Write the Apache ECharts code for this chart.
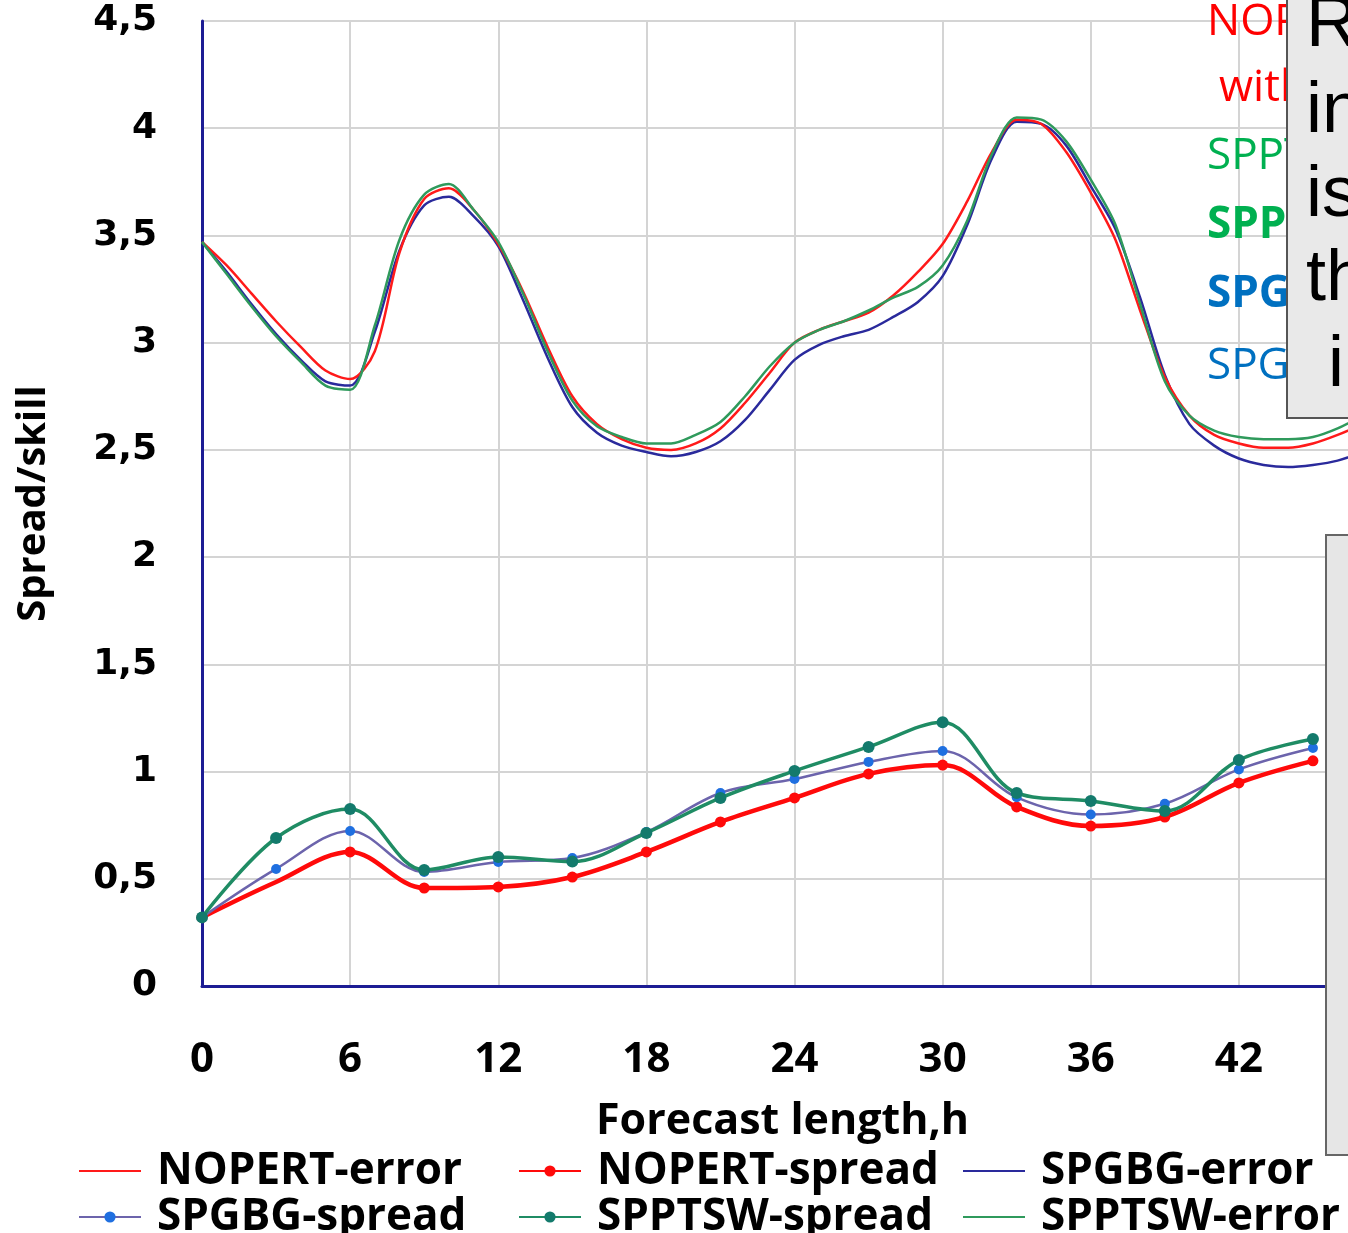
<!DOCTYPE html>
<html>
<head>
<meta charset="utf-8">
<script src="https://cdn.jsdelivr.net/npm/echarts@6/dist/echarts.min.js"></script>
<style>
html,body{margin:0;padding:0;background:#fff;}
#c{width:1348px;height:1233px;}
</style>
</head>
<body>
<div id="c"></div>
<script>
// ---------- data ----------
const errorHours = [0,1,2,3,4,5,6,7,8,9,10,11,12,13,14,15,16,17,18,19,20,21,22,23,24,25,26,27,28,29,30,31,32,33,34,35,36,37,38,39,40,41,42,43,44,45,46,47];
const nopertError = [3.47,3.36,3.23,3.10,2.98,2.87,2.83,2.96,3.42,3.67,3.72,3.62,3.46,3.24,2.98,2.75,2.62,2.55,2.51,2.50,2.53,2.60,2.72,2.86,3.00,3.06,3.10,3.14,3.22,3.33,3.46,3.66,3.89,4.04,4.02,3.89,3.70,3.48,3.15,2.84,2.66,2.57,2.53,2.51,2.51,2.53,2.57,2.62];
const spgbgError  = [3.47,3.33,3.18,3.04,2.92,2.82,2.80,3.05,3.43,3.64,3.68,3.59,3.45,3.20,2.93,2.70,2.58,2.52,2.49,2.47,2.49,2.54,2.64,2.78,2.92,2.99,3.03,3.06,3.12,3.19,3.31,3.55,3.86,4.03,4.02,3.92,3.73,3.53,3.21,2.85,2.62,2.52,2.46,2.43,2.42,2.43,2.45,2.49];
const spptswError = [3.47,3.32,3.17,3.03,2.91,2.80,2.78,3.08,3.48,3.69,3.74,3.62,3.47,3.23,2.96,2.73,2.61,2.56,2.53,2.53,2.57,2.63,2.75,2.89,3.00,3.06,3.10,3.15,3.21,3.26,3.36,3.57,3.88,4.05,4.04,3.94,3.76,3.55,3.18,2.82,2.66,2.59,2.56,2.55,2.55,2.56,2.60,2.66];

const spreadHours = [0,3,6,9,12,15,18,21,24,27,30,33,36,39,42,45];
const nopertSpread = [0.32,0.485,0.625,0.457,0.462,0.508,0.625,0.765,0.877,0.989,1.03,0.835,0.746,0.788,0.947,1.05];
const spgbgSpread  = [0.32,0.546,0.723,0.532,0.578,0.597,0.718,0.90,0.965,1.045,1.096,0.88,0.80,0.85,1.01,1.11];
const spptswSpread = [0.32,0.69,0.825,0.541,0.602,0.58,0.714,0.877,1.003,1.115,1.23,0.90,0.863,0.816,1.054,1.152];

const yTicks = ['0','0,5','1','1,5','2','2,5','3','3,5','4','4,5'];
const seriesNames = ['NOPERT-error','NOPERT-spread','SPGBG-error','SPGBG-spread','SPPTSW-spread','SPPTSW-error'];
const errorNames = [seriesNames[0], seriesNames[2], seriesNames[5]];

// ---------- build ----------
const pair = (xs, ys) => xs.map((x, i) => [x, ys[i]]);
const chart = echarts.init(document.getElementById('c'), null, {renderer: 'canvas'});
const legendText = {fontFamily: 'Open Sans', fontWeight: 'bold', fontSize: 44, lineHeight: 40, color: '#000', padding: [0, 0, 0, 11]};
const legendItem = (n) => errorNames.includes(n) ? {name: n, itemStyle: {opacity: 0}} : {name: n};
const mkLegend = (left, names) => ({
  orient: 'vertical', left: left, top: 1149, height: 200, itemGap: 2, itemWidth: 62, itemHeight: 14,
  data: names.map(legendItem), textStyle: legendText, padding: 0, selectedMode: false
});

chart.setOption({
  animation: false,
  backgroundColor: '#fff',
  grid: {left: 202, top: 21, width: 1185, height: 965, containLabel: false, outerBoundsMode: 'none'},
  xAxis: {
    type: 'value', min: 0, max: 48, interval: 6,
    axisLine: {show: true, onZero: true, lineStyle: {color: '#1c1c94', width: 3}},
    axisTick: {show: false},
    splitLine: {show: true, lineStyle: {color: '#d4d4d4', width: 2}},
    axisLabel: {margin: 53, fontFamily: 'Open Sans', fontWeight: 'bold', fontSize: 42, color: '#000'},
    name: 'Forecast length,h', nameLocation: 'middle', nameGap: 114,
    nameTextStyle: {fontFamily: 'Open Sans', fontWeight: 'bold', fontSize: 43, color: '#000', padding: [0, 24, 0, 0]}
  },
  yAxis: {
    type: 'value', min: 0, max: 4.5, interval: 0.5,
    axisLine: {show: true, lineStyle: {color: '#1c1c94', width: 3}},
    axisTick: {show: false},
    splitLine: {show: true, lineStyle: {color: '#d4d4d4', width: 2}},
    axisLabel: {margin: 45, fontFamily: 'DejaVu Sans', fontWeight: 'bold', fontSize: 36, color: '#000',
      formatter: (v) => yTicks[Math.round(v * 2)]},
    name: 'Spread/skill', nameLocation: 'middle', nameGap: 148, nameRotate: 90,
    nameTextStyle: {fontFamily: 'Open Sans', fontWeight: 'bold', fontSize: 40, color: '#000'}
  },
  legend: [
    mkLegend(78, [seriesNames[0], seriesNames[3]]),
    mkLegend(518, [seriesNames[1], seriesNames[4]]),
    mkLegend(962, [seriesNames[2], seriesNames[5]])
  ],
  series: [
    {name: seriesNames[0], type: 'line', data: pair(errorHours, nopertError), smooth: 0.3, symbol: 'none',
      lineStyle: {color: '#ff1a1a', width: 2.5}, itemStyle: {color: '#ff1a1a'}, z: 3},
    {name: seriesNames[2], type: 'line', data: pair(errorHours, spgbgError), smooth: 0.3, symbol: 'none',
      lineStyle: {color: '#2a2a9c', width: 2.5}, itemStyle: {color: '#2a2a9c'}, z: 2},
    {name: seriesNames[5], type: 'line', data: pair(errorHours, spptswError), smooth: 0.3, symbol: 'none',
      lineStyle: {color: '#2f9a5c', width: 2.5}, itemStyle: {color: '#2f9a5c'}, z: 4},
    {name: seriesNames[1], type: 'line', data: pair(spreadHours, nopertSpread), smooth: 0.35,
      symbol: (v, p) => (p.dataIndex === 1 ? 'none' : 'circle'), symbolSize: 11, showAllSymbol: true,
      lineStyle: {color: '#ff0a0a', width: 4.5}, itemStyle: {color: '#ff0a0a'}, z: 5},
    {name: seriesNames[3], type: 'line', data: pair(spreadHours, spgbgSpread), smooth: 0.35,
      symbol: 'circle', symbolSize: 10, showAllSymbol: true,
      lineStyle: {color: '#6c64ac', width: 2.5}, itemStyle: {color: '#1f6fe0'}, z: 6},
    {name: seriesNames[4], type: 'line', data: pair(spreadHours, spptswSpread), smooth: 0.35,
      symbol: 'circle', symbolSize: 12, showAllSymbol: true,
      lineStyle: {color: '#1f8c64', width: 3.5}, itemStyle: {color: '#137a6c'}, z: 7}
  ],
  graphic: [
    // coloured annotation lines (partly hidden by the box)
    {type: 'text', left: 1207, top: 0, z: 100, style: {text: 'NOPERT', fill: '#ff0000', font: '44px "Open Sans"'}},
    {type: 'text', left: 1219, top: 66, z: 100, style: {text: 'without', fill: '#ff0000', font: '44px "Open Sans"'}},
    {type: 'text', left: 1207, top: 134, z: 100, style: {text: 'SPPTSW', fill: '#00b050', font: '44px "Open Sans"'}},
    {type: 'text', left: 1207, top: 203, z: 100, style: {text: 'SPPTSW', fill: '#00b050', font: 'bold 44px "Open Sans"'}},
    {type: 'text', left: 1207, top: 272, z: 100, style: {text: 'SPGBG', fill: '#0070c0', font: 'bold 44px "Open Sans"'}},
    {type: 'text', left: 1207, top: 344, z: 100, style: {text: 'SPGBG', fill: '#0070c0', font: '44px "Open Sans"'}},
    // upper grey note box
    {type: 'rect', z: 110, shape: {x: 1287, y: -4, width: 80, height: 422},
      style: {fill: '#e9e9e9', stroke: '#555', lineWidth: 2}},
    {type: 'text', left: 1306, top: -10, z: 111, style: {text: 'Results', fill: '#000', font: '72px "Liberation Sans"'}},
    {type: 'text', left: 1306, top: 76, z: 111, style: {text: 'in', fill: '#000', font: '72px "Liberation Sans"'}},
    {type: 'text', left: 1306, top: 160, z: 111, style: {text: 'is', fill: '#000', font: '72px "Liberation Sans"'}},
    {type: 'text', left: 1306, top: 244, z: 111, style: {text: 'the', fill: '#000', font: '72px "Liberation Sans"'}},
    {type: 'text', left: 1328, top: 330, z: 111, style: {text: 'in', fill: '#000', font: '72px "Liberation Sans"'}},
    // lower grey box
    {type: 'rect', z: 110, shape: {x: 1326, y: 535, width: 40, height: 620},
      style: {fill: '#e6e6e6', stroke: '#666', lineWidth: 2}}
  ]
});
</script>
</body>
</html>
